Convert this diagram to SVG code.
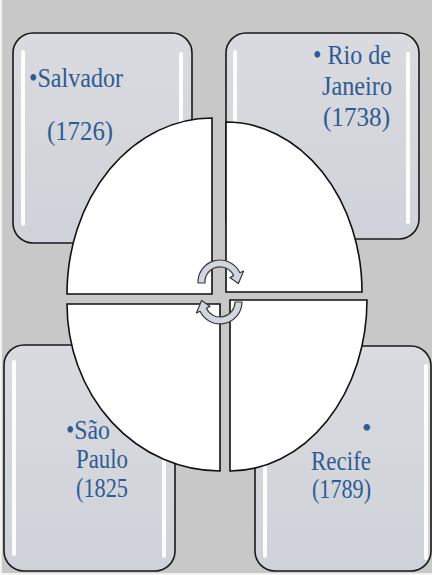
<svg xmlns="http://www.w3.org/2000/svg" width="432" height="575" viewBox="0 0 432 575">
<style>
.bg{fill:#c8c8c8}
.box{fill:url(#boxg);stroke:#1a1a1a;stroke-width:1.6}
.hl{fill:#ffffff;opacity:0.95}
.pie{fill:#ffffff;stroke:#111111;stroke-width:1.6}
.t{font-size:27px;fill:#2f5b93}
.arr{fill:#d2d6de;stroke:#3a3a3a;stroke-width:1.2;stroke-linejoin:round}
</style>
<defs>
<linearGradient id="boxg" x1="0" y1="0" x2="0" y2="1">
<stop offset="0" stop-color="#d9dbe0"/>
<stop offset="1" stop-color="#cfd2d8"/>
</linearGradient>
<filter id="soft" x="-50%" y="-10%" width="200%" height="120%">
<feGaussianBlur stdDeviation="0.7"/>
</filter>
</defs>
<rect x="0" y="0" width="432" height="575" fill="#f2f2f2"/>
<rect class="bg" x="2" y="0" width="430" height="573"/>
<g id="box-salvador">
<rect class="box" x="13" y="33" width="179" height="210" rx="20"/>
<rect class="hl" x="21" y="50" width="4" height="176" rx="2" filter="url(#soft)"/>
<rect class="hl" x="179" y="52" width="4" height="176" rx="2" filter="url(#soft)"/>
</g>
<g id="box-rio">
<rect class="box" x="226" y="33" width="193" height="206" rx="20"/>
<rect class="hl" x="233" y="50" width="4" height="172" rx="2" filter="url(#soft)"/>
<rect class="hl" x="406" y="52" width="4" height="172" rx="2" filter="url(#soft)"/>
</g>
<g id="box-saopaulo">
<rect class="box" x="4" y="345" width="171" height="226" rx="20"/>
<rect class="hl" x="12" y="360" width="4" height="196" rx="2" filter="url(#soft)"/>
<rect class="hl" x="162" y="362" width="4" height="196" rx="2" filter="url(#soft)"/>
</g>
<g id="box-recife">
<rect class="box" x="255" y="346" width="176" height="225" rx="20"/>
<rect class="hl" x="263" y="362" width="4" height="196" rx="2" filter="url(#soft)"/>
<rect class="hl" x="424" y="364" width="4" height="196" rx="2" filter="url(#soft)"/>
</g>
<g id="pie">
<path id="q-tl" class="pie" d="M212,294 L67,294 A145,176 0 0 1 212,118 Z"/>
<path id="q-tr" class="pie" d="M226,292 L226,122 A136,170 0 0 1 362,292 Z"/>
<path id="q-bl" class="pie" d="M220,304 L220,471 A153,167 0 0 1 67,304 Z"/>
<path id="q-br" class="pie" d="M230,300 L367,300 A137,171 0 0 1 230,471 Z"/>
</g>
<g id="connectors">
<path class="arr" d="M198,283 A22,22 0 0 1 239.9,272.7 L243.6,271 L238.4,283.6 L229.9,277.6 L233.6,275.6 A15,15 0 0 0 205,283 Z"/>
<path class="arr" d="M242,302 A22,22 0 0 1 200.1,311.3 L196.4,313 L201.6,300.4 L210.1,306.4 L206.4,308.3 A15,15 0 0 0 235,302 Z"/>
</g>
<g id="labels" font-family="'Liberation Serif', 'Times New Roman', serif">
<text class="t" x="29" y="87" textLength="94" lengthAdjust="spacingAndGlyphs">•Salvador</text>
<text class="t" x="47" y="140" textLength="66" lengthAdjust="spacingAndGlyphs">(1726)</text>
<text class="t" x="313" y="64" textLength="78" lengthAdjust="spacingAndGlyphs">• Rio de</text>
<text class="t" x="322" y="95" textLength="70" lengthAdjust="spacingAndGlyphs">Janeiro</text>
<text class="t" x="323" y="126" textLength="67" lengthAdjust="spacingAndGlyphs">(1738)</text>
<text class="t" x="66" y="439" textLength="44" lengthAdjust="spacingAndGlyphs">•São</text>
<text class="t" x="76" y="468" textLength="52" lengthAdjust="spacingAndGlyphs">Paulo</text>
<text class="t" x="76" y="497" textLength="52" lengthAdjust="spacingAndGlyphs">(1825</text>
<text class="t" x="362" y="437">•</text>
<text class="t" x="311" y="470" textLength="60" lengthAdjust="spacingAndGlyphs">Recife</text>
<text class="t" x="312" y="498" textLength="59" lengthAdjust="spacingAndGlyphs">(1789)</text>
</g>
</svg>
